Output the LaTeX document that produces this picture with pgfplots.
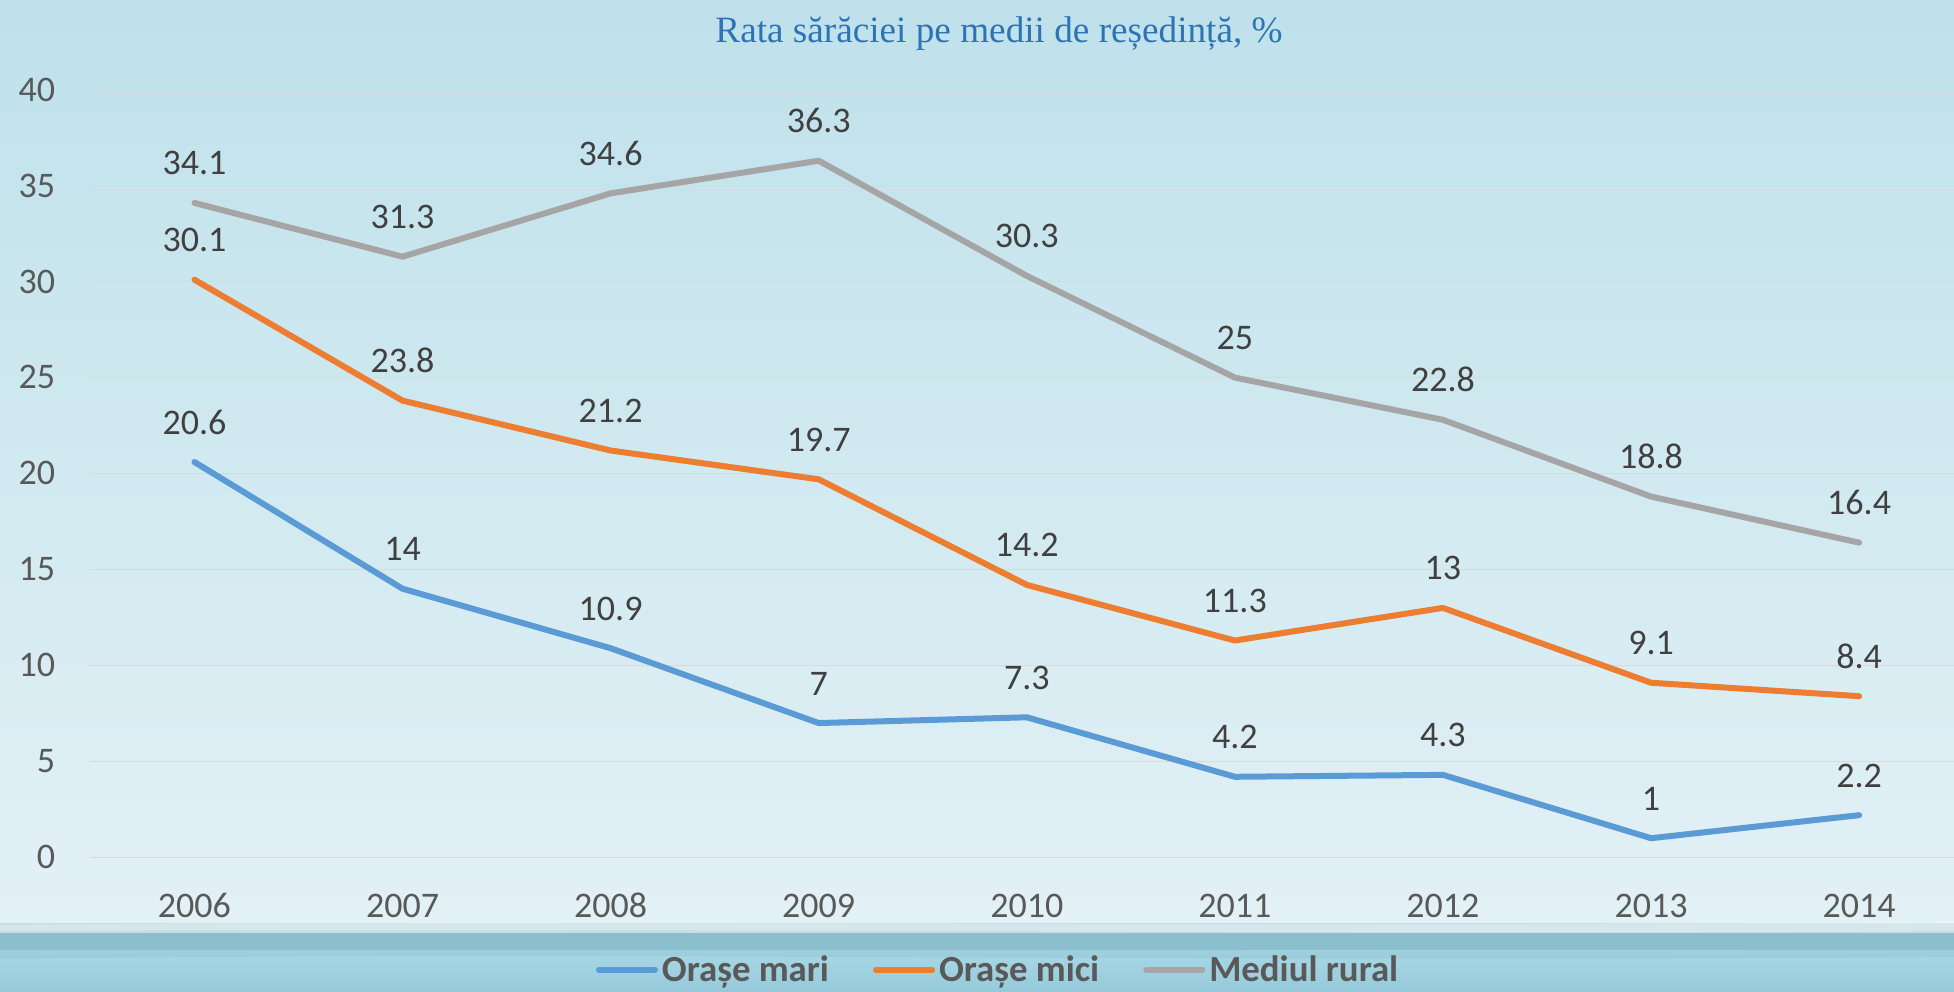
\documentclass[border=0pt]{standalone}
\usepackage{fontspec}
\setmainfont{Carlito}
\newfontfamily\titlefont{Liberation Serif}
\usepackage{pgfplots}
\usepackage{pgfplotstable}
\pgfplotsset{compat=1.18}
\definecolor{bgtop}{HTML}{BFE1EB}
\definecolor{bgbot}{HTML}{E3F1F6}
\definecolor{bandA}{HTML}{C5DEE5}
\definecolor{bandB}{HTML}{8CBFCE}
\definecolor{bandC}{HTML}{A9D8E5}
\definecolor{bandD}{HTML}{96CADA}
\definecolor{gridc}{HTML}{D9D9D9}
\definecolor{ticktext}{HTML}{595959}
\definecolor{labtext}{HTML}{404040}
\definecolor{titleblue}{HTML}{2E74B5}
\definecolor{sblue}{HTML}{5B9BD5}
\definecolor{sorange}{HTML}{ED7D31}
\definecolor{sgray}{HTML}{A5A5A5}

\pgfplotstableread{
x y l
0 20.6 20.6
1 14 14
2 10.9 10.9
3 7 7
4 7.3 7.3
5 4.2 4.2
6 4.3 4.3
7 1 1
8 2.2 2.2
}\mari
\pgfplotstableread{
x y l
0 30.1 30.1
1 23.8 23.8
2 21.2 21.2
3 19.7 19.7
4 14.2 14.2
5 11.3 11.3
6 13 13
7 9.1 9.1
8 8.4 8.4
}\mici
\pgfplotstableread{
x y l
0 34.1 34.1
1 31.3 31.3
2 34.6 34.6
3 36.3 36.3
4 30.3 30.3
5 25 25
6 22.8 22.8
7 18.8 18.8
8 16.4 16.4
}\rural

\begin{document}
\begin{tikzpicture}
\useasboundingbox (0,0) rectangle (977pt,495.5pt);
\clip (0,0) rectangle (977pt,495.5pt);
\shade[top color=bgtop, bottom color=bgbot] (0,32pt) rectangle (977pt,495.5pt);
\fill[bandA] (0,0) rectangle (977pt,34pt);
\fill[bandB] (0,20pt) rectangle (977pt,29pt);
\shade[top color=bandC, bottom color=bandD] (0,0) rectangle (977pt,20.5pt);
\fill[bandB, opacity=0.35] (0,22pt) .. controls (300pt,24pt) and (600pt,18pt) .. (977pt,21pt) -- (977pt,17pt) .. controls (600pt,14pt) and (300pt,20pt) .. (0,16pt) -- cycle;
\fill[white, opacity=0.3] (0,33pt) .. controls (300pt,36pt) and (650pt,31pt) .. (977pt,35pt) -- (977pt,30pt) .. controls (650pt,28pt) and (300pt,32pt) .. (0,30pt) -- cycle;

\node[font=\titlefont\fontsize{18.6}{21}\selectfont, text=titleblue, anchor=base] at (499.5pt,474pt) {Rata sărăciei pe medii de reședință, \%};

\begin{axis}[
  at={(45.2pt,66.8pt)}, anchor=south west,
  scale only axis, width=931.8pt, height=383.85pt,
  xmin=-0.5, xmax=8.456, ymin=0, ymax=40,
  ytick={0,5,...,40},
  xtick={0,1,2,3,4,5,6,7,8},
  xticklabels={2006,2007,2008,2009,2010,2011,2012,2013,2014},
  axis line style={draw=none},
  major tick length=0pt,
  ymajorgrids,
  grid style={color=gridc, line width=0.75pt},
  clip=false,
  tick label style={font=\fontsize{18}{20}\selectfont, text=ticktext, inner sep=0pt},
  /pgf/number format/assume math mode=true,
  xticklabel style={anchor=base, yshift=-29.8pt},
  yticklabel style={anchor=base east, xshift=-17.5pt, yshift=-5.7pt},
  point meta=explicit symbolic,
  nodes near coords,
  nodes near coords style={anchor=base, yshift=14pt, inner sep=0pt, font=\fontsize{18}{20}\selectfont, text=labtext},
  legend style={at={(0.4876,-0.1465)}, anchor=center, draw=none, fill=none,
    font=\bfseries\fontsize{18.4}{20}\selectfont, text=ticktext, inner sep=0pt,
    /tikz/every even column/.append style={column sep=20pt}},
  legend columns=3,
  legend cell align=left,
  legend image code/.code={\draw[#1, line width=3pt] (0pt,0pt) -- (28pt,0pt);},
]
\addplot[sblue, line width=3pt, line join=round, line cap=round] table[x=x,y=y,meta=l] {\mari};
\addlegendentry{Orașe mari}
\addplot[sorange, line width=3pt, line join=round, line cap=round] table[x=x,y=y,meta=l] {\mici};
\addlegendentry{Orașe mici}
\addplot[sgray, line width=3pt, line join=round, line cap=round] table[x=x,y=y,meta=l] {\rural};
\addlegendentry{Mediul rural}
\end{axis}
\end{tikzpicture}
\end{document}
